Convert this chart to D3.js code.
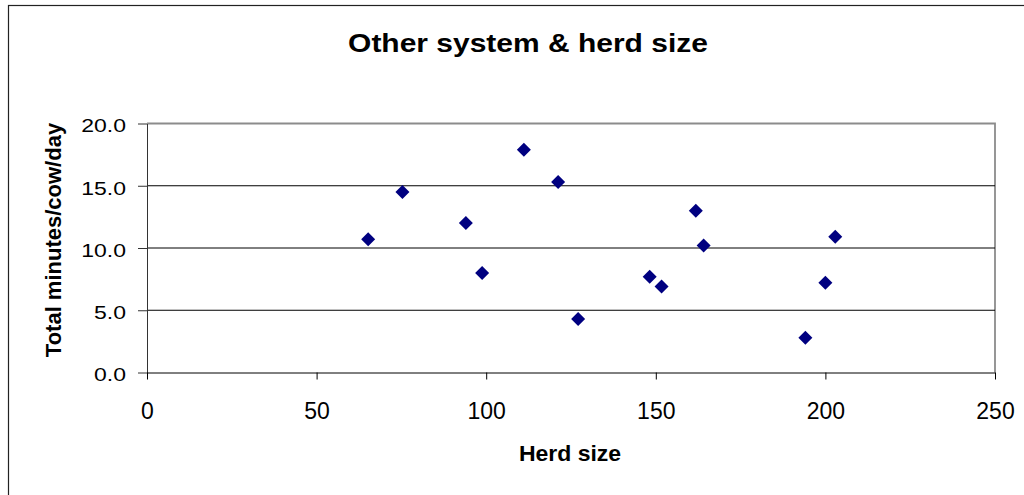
<!DOCTYPE html>
<html>
<head>
<meta charset="utf-8">
<script src="https://cdn.jsdelivr.net/npm/d3@7"></script>
<style>
  html, body { margin: 0; padding: 0; background: #fff; }
  svg { display: block; font-family: "Liberation Sans", Arial, sans-serif; }
</style>
</head>
<body>
<svg id="chart" width="1024" height="495"></svg>
<script>
// Herd size vs. total minutes per cow per day, "other" milking system
const herdSize = [65.2, 75.3, 94.0, 98.8, 111.1, 121.2, 127.1, 148.2, 151.7, 161.8, 164.1, 194.1, 200.0, 202.9];
const minutesPerCow = [10.7, 14.5, 12.0, 8.0, 17.9, 15.3, 4.3, 7.7, 6.9, 13.0, 10.2, 2.8, 7.2, 10.9];
const xTicks = [0, 50, 100, 150, 200, 250];
const yTicks = [0, 5, 10, 15, 20];

const titleText = "Other system & herd size";
const xTitle = "Herd size";
const yTitle = "Total minutes/cow/day";

const svg = d3.select("#chart");

const plot = { left: 147, right: 995, top: 123.5, bottom: 372.5 };

const x = d3.scaleLinear().domain([0, 250]).range([plot.left, plot.right]);
const y = d3.scaleLinear().domain([0, 20]).range([plot.bottom, plot.top]);

// outer chart frame (runs off the right and bottom edges)
svg.append("rect")
  .attr("x", 8.5).attr("y", 5.5)
  .attr("width", 1100).attr("height", 600)
  .attr("fill", "#fff")
  .attr("stroke", "#222").attr("stroke-width", 1.2);

// title
svg.append("text")
  .attr("transform", "translate(528,52) scale(1,0.83)")
  .attr("text-anchor", "middle")
  .attr("font-weight", "bold")
  .attr("font-size", 30)
  .attr("fill", "#000")
  .text(titleText);

// plot area border (top and right)
svg.append("path")
  .attr("d", `M${plot.left},${plot.top}H${plot.right}V${plot.bottom}`)
  .attr("fill", "none")
  .attr("stroke", "#8c8c8c")
  .attr("stroke-width", 1.8);

// horizontal gridlines
svg.append("g")
  .selectAll("line")
  .data(yTicks.filter(d => d > 0 && d < 20))
  .join("line")
  .attr("x1", plot.left).attr("x2", plot.right)
  .attr("y1", d => y(d)).attr("y2", d => y(d))
  .attr("stroke", "#000").attr("stroke-width", 1);

// y axis
const yAxis = svg.append("g")
  .attr("transform", `translate(${plot.left},0)`)
  .call(d3.axisLeft(y).tickValues(yTicks).tickSize(9).tickSizeOuter(0).tickPadding(0).tickFormat(d3.format(".1f")));
yAxis.select(".domain").attr("stroke", "#333");
yAxis.selectAll(".tick line").attr("stroke", "#333");
yAxis.selectAll(".tick text").remove();
yAxis.selectAll(".tick")
  .append("text")
  .attr("transform", "translate(-21,8.3) scale(1,0.81)")
  .attr("text-anchor", "end")
  .attr("font-size", 23)
  .attr("fill", "#000")
  .text(d => d3.format(".1f")(d));

// x axis
const xAxis = svg.append("g")
  .attr("transform", `translate(0,${plot.bottom})`)
  .call(d3.axisBottom(x).tickValues(xTicks).tickSize(7).tickSizeOuter(0).tickPadding(0));
xAxis.select(".domain").attr("stroke", "#000");
xAxis.selectAll(".tick line").attr("stroke", "#000");
xAxis.selectAll(".tick text").remove();
xAxis.selectAll(".tick")
  .append("text")
  .attr("y", 46.5)
  .attr("text-anchor", "middle")
  .attr("font-size", 23)
  .attr("fill", "#000")
  .text(d => d);

// axis titles
svg.append("text")
  .attr("transform", "translate(570,461) scale(1,0.95)")
  .attr("text-anchor", "middle")
  .attr("font-weight", "bold")
  .attr("font-size", 23)
  .attr("fill", "#000")
  .text(xTitle);

svg.append("text")
  .attr("transform", "translate(61,240) rotate(-90)")
  .attr("text-anchor", "middle")
  .attr("font-weight", "bold")
  .attr("font-size", 22)
  .attr("fill", "#000")
  .text(yTitle);

// diamond markers
const points = herdSize.map((h, i) => ({ h, m: minutesPerCow[i] }));
const diamond = d3.symbol(d3.symbolSquare, 98);
svg.append("g")
  .selectAll("path")
  .data(points)
  .join("path")
  .attr("d", diamond)
  .attr("transform", d => `translate(${x(d.h)},${y(d.m)}) rotate(45)`)
  .attr("fill", "#000080");
</script>
</body>
</html>
